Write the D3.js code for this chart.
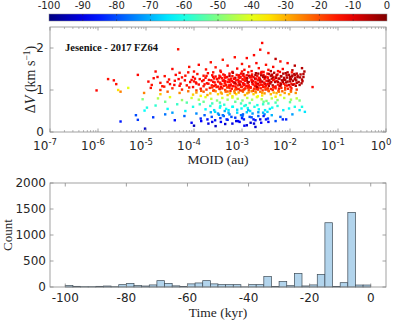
<!DOCTYPE html>
<html>
<head>
<meta charset="utf-8">
<script src="https://cdn.jsdelivr.net/npm/d3@7"></script>
<style>
body { margin: 0; background: #fff; }
svg { display: block; }
</style>
</head>
<body>
<svg id="chart" width="399" height="322"></svg>
<script>
// colour bar / time ticks
var ageTicks = [-100, -90, -80, -70, -60, -50, -40, -30, -20, -10, 0];
// top panel ticks
var moidDecades = [-7, -6, -5, -4, -3, -2, -1, 0];
var dvTicks = [0, 1, 2];
// bottom panel ticks
var countTicks = [0, 500, 1000, 1500, 2000];
var timeTicks = [-100, -80, -60, -40, -20, 0];

// histogram, 2.5 kyr bins
var binLeft = [-100, -97.5, -95, -92.5, -90, -87.5, -85, -82.5, -80, -77.5,
	-75, -72.5, -70, -67.5, -65, -62.5, -60, -57.5, -55, -52.5,
	-50, -47.5, -45, -42.5, -40, -37.5, -35, -32.5, -30, -27.5,
	-25, -22.5, -20, -17.5, -15, -12.5, -10, -7.5, -5, -2.5];
var binCount = [26, 13, 6, 6, 13, 19, 6, 45, 70, 26,
	19, 40, 122, 70, 22, 8, 60, 78, 122, 60,
	45, 45, 45, 3, 45, 45, 200, 8, 105, 25,
	262, 20, 40, 243, 1236, 8, 83, 1435, 38, 38];

// clones: [log10 MOID (au), dV (km/s), time (kyr)]
var clones = [
	// far left
	[-6.03,0.99,-13],[-5.79,1.26,-14],[-5.67,1.23,-13],[-5.62,1.14,-14],[-5.17,1.36,-13],
	// upper sparse
	[-4.33,1.97,-14],[-2.58,2.12,-13],[-2.62,1.96,-13],[-2.45,1.88,-14],[-2.75,1.83,-13],[-3.15,1.78,-14],
	[-2.9,1.76,-13],[-3.4,1.72,-15],[-2.3,1.74,-6],[-2.2,1.68,-14],[-3.65,1.66,-14],[-2.05,1.64,-13],
	[-2.7,1.64,-13],[-3.0,1.62,-14],[-3.9,1.6,-13],[-2.5,1.6,-14],[-1.9,1.58,-6],[-3.3,1.58,-13],
	[-2.85,1.56,-14],[-4.1,1.55,-14],[-2.35,1.55,-13],[-3.55,1.54,-14],[-1.75,1.52,-5],[-2.65,1.52,-14],
	[-3.1,1.51,-13],[-4.45,1.5,-13],[-2.15,1.5,-13],[-3.75,1.49,-14],[-2.95,1.48,-13],[-2.45,1.48,-14],
	[-1.95,1.47,-6],[-4.8,1.44,-13],[-3.45,1.46,-13],[-2.25,1.45,-14],[-2.8,1.45,-13],[-4.0,1.44,-14],
	[-1.7,1.44,-5],[-3.2,1.43,-13],[-2.55,1.43,-14],[-2.05,1.42,-6],[-3.6,1.42,-14],[-4.3,1.41,-14],
	// core
	[-4.12,1.42,-14],[-3.71,1.40,-13],[-3.44,1.43,-14],[-3.19,1.41,-6],[-3.02,1.39,-13],[-2.87,1.42,-14],
	[-2.71,1.40,-5],[-2.59,1.43,-13],[-2.47,1.39,-14],[-2.33,1.41,-6],[-2.21,1.43,-13],[-2.09,1.40,-5],
	[-1.96,1.42,-14],[-1.86,1.39,-6],
	[-4.38,1.36,-13],[-3.93,1.38,-14],[-3.62,1.35,-13],[-3.39,1.37,-14],[-3.26,1.39,-13],[-3.11,1.36,-14],
	[-2.97,1.38,-6],[-2.9,1.35,-13],[-2.79,1.37,-14],[-2.66,1.39,-5],[-2.55,1.36,-13],[-2.44,1.38,-6],
	[-2.37,1.35,-14],[-2.26,1.37,-13],[-2.14,1.39,-5],[-2.02,1.36,-6],[-1.91,1.38,-5],[-1.78,1.37,-6],
	[-4.61,1.33,-14],[-4.02,1.31,-13],[-3.8,1.34,-14],[-3.55,1.32,-13],[-3.47,1.34,-14],[-3.31,1.31,-13],
	[-3.2,1.33,-14],[-3.06,1.35,-13],[-2.95,1.32,-14],[-2.85,1.34,-6],[-2.76,1.31,-13],[-2.68,1.33,-14],
	[-2.6,1.35,-5],[-2.51,1.32,-13],[-2.4,1.34,-6],[-2.3,1.31,-14],[-2.19,1.33,-5],[-2.07,1.35,-6],
	[-1.96,1.32,-5],[-1.84,1.34,-6],[-1.72,1.31,-5],
	[-4.84,1.28,-13],[-4.25,1.3,-14],[-3.98,1.27,-13],[-3.76,1.29,-14],[-3.6,1.31,-13],[-3.42,1.28,-14],
	[-3.34,1.3,-13],[-3.23,1.27,-14],[-3.14,1.29,-6],[-3.03,1.31,-13],[-2.93,1.28,-14],[-2.83,1.3,-13],
	[-2.73,1.27,-5],[-2.64,1.29,-14],[-2.56,1.31,-6],[-2.46,1.28,-13],[-2.35,1.3,-5],[-2.24,1.27,-14],
	[-2.12,1.29,-6],[-2.0,1.31,-5],[-1.89,1.28,-6],[-1.79,1.3,-5],
	[-4.52,1.25,-14],[-4.19,1.23,-13],[-3.88,1.26,-14],[-3.69,1.24,-13],[-3.52,1.26,-14],[-3.38,1.23,-13],
	[-3.28,1.25,-14],[-3.17,1.27,-13],[-3.08,1.24,-14],[-2.99,1.26,-13],[-2.9,1.23,-6],[-2.8,1.25,-14],
	[-2.7,1.27,-13],[-2.62,1.24,-5],[-2.53,1.26,-14],[-2.43,1.23,-6],[-2.33,1.25,-13],[-2.22,1.27,-5],
	[-2.1,1.24,-6],[-1.98,1.26,-5],[-1.87,1.23,-6],[-1.75,1.25,-5],
	[-4.95,1.2,-13],[-4.4,1.22,-14],[-4.08,1.19,-13],[-3.83,1.21,-14],[-3.64,1.23,-13],[-3.5,1.2,-14],
	[-3.4,1.22,-13],[-3.3,1.19,-14],[-3.21,1.21,-13],[-3.12,1.23,-14],[-3.02,1.2,-13],[-2.94,1.22,-14],
	[-2.86,1.19,-6],[-2.77,1.21,-13],[-2.67,1.23,-14],[-2.58,1.2,-5],[-2.49,1.22,-13],[-2.39,1.19,-6],
	[-2.28,1.21,-14],[-2.17,1.23,-5],[-2.05,1.2,-6],[-1.94,1.22,-5],[-1.82,1.19,-6],
	[-4.7,1.17,-14],[-4.28,1.15,-13],[-3.96,1.18,-14],[-3.73,1.16,-13],[-3.57,1.18,-14],[-3.45,1.15,-13],
	[-3.36,1.17,-14],[-3.26,1.19,-13],[-3.16,1.16,-14],[-3.07,1.18,-13],[-2.97,1.15,-14],[-2.88,1.17,-13],
	[-2.79,1.19,-6],[-2.71,1.16,-14],[-2.62,1.18,-13],[-2.52,1.15,-5],[-2.42,1.17,-14],[-2.31,1.19,-6],
	[-2.2,1.16,-13],[-2.08,1.18,-5],[-1.97,1.15,-14],[-1.86,1.17,-6],[-1.76,1.16,-5],
	[-4.88,1.12,-14],[-4.5,1.14,-13],[-4.15,1.11,-14],[-3.9,1.13,-13],[-3.7,1.15,-14],[-3.55,1.12,-13],
	[-3.43,1.14,-14],[-3.33,1.11,-13],[-3.23,1.13,-14],[-3.13,1.15,-13],[-3.04,1.12,-14],[-2.95,1.14,-13],
	[-2.86,1.11,-14],[-2.76,1.13,-13],[-2.67,1.15,-6],[-2.57,1.12,-14],[-2.47,1.14,-13],[-2.36,1.11,-5],
	[-2.25,1.13,-14],[-2.13,1.15,-13],[-2.02,1.12,-6],[-1.91,1.14,-14],[-1.8,1.12,-5],
	[-4.62,1.08,-15],[-4.3,1.1,-14],[-4.02,1.07,-13],[-3.8,1.09,-15],[-3.63,1.11,-14],[-3.5,1.08,-13],
	[-3.38,1.1,-15],[-3.28,1.07,-14],[-3.19,1.09,-13],[-3.09,1.11,-15],[-3.0,1.08,-14],[-2.91,1.1,-13],
	[-2.82,1.07,-15],[-2.73,1.09,-14],[-2.64,1.11,-13],[-2.54,1.08,-15],[-2.44,1.1,-6],[-2.33,1.07,-14],
	[-2.22,1.09,-13],[-2.1,1.11,-15],[-1.99,1.08,-14],[-1.88,1.1,-6],
	[-4.45,1.04,-16],[-4.1,1.06,-15],[-3.86,1.03,-14],[-3.67,1.05,-16],[-3.53,1.07,-15],[-3.41,1.04,-14],
	[-3.31,1.06,-17],[-3.21,1.03,-15],[-3.12,1.05,-14],[-3.02,1.07,-16],[-2.93,1.04,-15],[-2.84,1.06,-14],
	[-2.75,1.03,-17],[-2.66,1.05,-15],[-2.56,1.07,-14],[-2.46,1.04,-16],[-2.35,1.06,-15],[-2.23,1.03,-14],
	[-2.1,1.05,-17],[-1.97,1.04,-15],
	[-4.7,1.0,-18],[-4.25,1.01,-16],[-3.95,0.99,-19],[-3.74,1.01,-17],[-3.58,0.99,-16],[-3.46,1.02,-20],
	[-3.35,1.0,-18],[-3.24,0.98,-16],[-3.14,1.01,-19],[-3.04,0.99,-17],[-2.95,1.02,-16],[-2.86,1.0,-20],
	[-2.77,0.98,-18],[-2.67,1.01,-16],[-2.57,0.99,-19],[-2.47,1.02,-17],[-2.36,1.0,-16],[-2.24,0.98,-18],
	[-2.1,1.01,-20],[-1.98,0.99,-17],[-1.86,1.01,-18],
	[-4.76,1.31,-13],[-4.55,1.19,-14],[-4.32,1.26,-13],[-4.66,1.09,-14],[-4.18,1.34,-14],[-4.41,1.12,-13],
	[-4.9,1.05,-14],[-4.05,1.24,-13],
	[-1.72,1.38,-5],[-1.74,1.21,-6],[-1.53,1.07,-13],
	[-3.36,1.35,-13],[-3.05,1.29,-14],[-2.8,1.33,-6],[-2.52,1.3,-5],[-2.28,1.35,-6],[-3.18,1.19,-13],
	[-2.92,1.26,-14],[-2.62,1.22,-13],[-2.38,1.27,-5],[-2.15,1.19,-6],[-3.27,1.11,-14],[-2.98,1.16,-13],
	[-2.7,1.12,-14],[-2.45,1.15,-13],[-2.2,1.1,-6],[-3.1,1.02,-16],[-2.82,1.05,-15],[-2.51,1.01,-17],
	[-2.3,1.04,-15],[-3.48,1.28,-14],[-2.0,1.26,-5],[-1.9,1.35,-6],[-2.6,1.41,-13],[-3.0,1.44,-14],[-2.4,1.45,-6],
	// core, second read of the densest part
	[-3.47,1.03,-15],[-3.26,1.05,-16],[-3.07,1.025,-15],[-2.88,1.055,-16],[-2.7,1.03,-15],[-2.51,1.06,-17],
	[-2.4,1.025,-15],[-2.18,1.05,-16],[-2.04,1.03,-15],[-3.62,1.06,-16],[-2.97,1.005,-17],[-2.61,1.04,-15],
	[-3.58,1.095,-14],[-3.44,1.075,-13],[-3.34,1.125,-14],[-3.24,1.105,-13],[-3.14,1.085,-14],[-3.05,1.135,-6],
	[-2.96,1.115,-13],[-2.87,1.095,-14],[-2.78,1.145,-13],[-2.69,1.075,-5],[-2.6,1.125,-14],[-2.5,1.105,-13],
	[-2.41,1.155,-6],[-2.3,1.085,-14],[-2.19,1.135,-5],[-2.06,1.105,-13],[-1.94,1.125,-6],[-3.78,1.135,-14],
	[-3.95,1.155,-13],
	[-3.6,1.195,-13],[-3.46,1.175,-14],[-3.35,1.215,-13],[-3.25,1.235,-14],[-3.15,1.175,-6],[-3.06,1.205,-13],
	[-2.97,1.245,-14],[-2.88,1.185,-5],[-2.8,1.225,-13],[-2.72,1.195,-14],[-2.63,1.255,-6],[-2.54,1.175,-13],
	[-2.45,1.215,-5],[-2.35,1.235,-14],[-2.25,1.195,-6],[-2.13,1.245,-5],[-2.0,1.205,-6],[-1.9,1.255,-5],
	[-3.8,1.235,-13],[-4.0,1.205,-14],
	[-3.58,1.275,-14],[-3.45,1.315,-13],[-3.36,1.295,-14],[-3.26,1.335,-6],[-3.16,1.265,-13],[-3.07,1.305,-14],
	[-2.98,1.345,-13],[-2.89,1.285,-6],[-2.81,1.315,-14],[-2.72,1.355,-5],[-2.64,1.275,-13],[-2.56,1.335,-6],
	[-2.47,1.305,-14],[-2.38,1.365,-5],[-2.29,1.285,-6],[-2.18,1.325,-5],[-2.06,1.295,-6],[-1.95,1.345,-5],
	[-1.84,1.305,-6],[-3.74,1.335,-14],
	// orange / yellow
	[-4.55,0.96,-22],[-4.3,0.93,-26],[-4.12,0.97,-24],[-3.95,0.94,-28],[-3.8,0.96,-22],[-3.66,0.92,-30],
	[-3.55,0.97,-25],[-3.44,0.94,-28],[-3.34,0.96,-23],[-3.25,0.92,-31],[-3.16,0.97,-24],[-3.07,0.94,-27],
	[-2.98,0.96,-22],[-2.89,0.92,-30],[-2.8,0.97,-25],[-2.71,0.94,-29],[-2.62,0.96,-23],[-2.53,0.92,-27],
	[-2.44,0.97,-22],[-2.34,0.94,-30],[-2.23,0.96,-24],[-2.11,0.93,-28],[-1.98,0.96,-23],[-1.88,0.93,-27],
	[-4.7,0.9,-32],[-4.02,0.89,-33],[-3.72,0.88,-29],[-3.5,0.9,-34],[-3.3,0.88,-32],[-3.12,0.9,-35],
	[-2.94,0.88,-30],[-2.76,0.9,-33],[-2.58,0.87,-35],[-2.4,0.9,-31],[-2.2,0.88,-34],[-2.02,0.9,-30],
	[-3.86,0.86,-36],[-3.2,0.85,-34],[-2.67,0.85,-37],[-2.3,0.84,-35],[-5.04,0.93,-25],[-5.58,1.0,-35],
	[-5.53,0.96,-25],[-5.37,1.05,-40],
	[-3.6,0.985,-20],[-3.3,0.965,-22],[-3.0,0.985,-19],[-2.72,0.965,-24],[-2.45,0.985,-21],[-2.16,0.97,-22],
	[-3.15,0.93,-27],[-2.86,0.945,-26],[-2.58,0.935,-28],[-2.28,0.925,-30],[-3.42,0.915,-29],[-3.85,0.98,-21],
	// green
	[-5.07,0.78,-50],[-4.75,0.8,-45],[-4.5,0.83,-40],[-4.25,0.76,-48],[-4.05,0.81,-42],[-3.9,0.77,-46],
	[-3.76,0.83,-40],[-3.64,0.79,-44],[-3.52,0.75,-50],[-3.41,0.81,-42],[-3.3,0.77,-47],[-3.2,0.82,-41],
	[-3.09,0.79,-45],[-2.99,0.75,-50],[-2.89,0.81,-43],[-2.79,0.77,-46],[-2.69,0.83,-40],[-2.59,0.78,-45],
	[-2.49,0.74,-50],[-2.38,0.8,-44],[-2.26,0.76,-48],[-2.12,0.81,-43],[-1.98,0.77,-47],[-1.86,0.8,-44],
	[-4.6,0.72,-52],[-4.15,0.7,-54],[-3.8,0.72,-52],[-3.46,0.7,-54],[-3.14,0.72,-53],[-2.84,0.69,-55],
	[-2.55,0.72,-52],[-2.3,0.7,-55],[-2.0,0.71,-53],[-1.8,0.75,-50],
	// cyan
	[-5.03,0.51,-62],[-4.98,0.58,-60],[-4.8,0.63,-58],[-4.55,0.55,-62],[-4.35,0.66,-57],[-4.18,0.5,-64],
	[-4.02,0.6,-60],[-3.88,0.66,-57],[-3.76,0.54,-63],[-3.66,0.62,-59],[-3.56,0.48,-66],[-3.46,0.58,-61],
	[-3.37,0.65,-58],[-3.28,0.52,-64],[-3.19,0.6,-60],[-3.1,0.46,-66],[-3.01,0.56,-62],[-2.92,0.64,-58],
	[-2.83,0.5,-65],[-2.74,0.6,-60],[-2.65,0.54,-63],[-2.56,0.66,-57],[-2.47,0.48,-66],[-2.37,0.58,-61],
	[-2.26,0.62,-59],[-2.14,0.52,-64],[-2.02,0.56,-62],[-1.9,0.6,-60],[-1.8,0.52,-64],[-1.75,0.6,-60],
	[-1.69,0.48,-65],[-3.62,0.68,-56],[-3.02,0.68,-56],[-2.45,0.68,-56],[-3.33,0.55,-62],[-2.88,0.57,-61],
	[-2.52,0.52,-64],
	// blue
	[-5.53,0.25,-85],[-5.21,0.4,-80],[-5.17,0.29,-82],[-5.02,0.08,-92],[-4.85,0.35,-82],[-4.6,0.42,-76],
	[-4.4,0.28,-86],[-4.2,0.38,-78],[-4.05,0.22,-88],[-3.95,0.44,-74],[-3.86,0.32,-84],[-3.78,0.4,-78],
	[-3.7,0.2,-90],[-3.63,0.36,-80],[-3.56,0.28,-86],[-3.5,0.44,-72],[-3.44,0.24,-88],[-3.38,0.38,-78],
	[-3.32,0.3,-84],[-3.26,0.42,-74],[-3.2,0.2,-90],[-3.14,0.34,-82],[-3.08,0.26,-86],[-3.02,0.4,-76],
	[-2.96,0.3,-84],[-2.9,0.16,-92],[-2.84,0.36,-80],[-2.78,0.44,-72],[-2.72,0.28,-86],[-2.66,0.38,-78],
	[-2.6,0.22,-88],[-2.53,0.42,-74],[-2.46,0.32,-82],[-2.38,0.4,-70],[-2.3,0.26,-80],[-2.2,0.36,-78],
	[-2.08,0.3,-84],[-1.95,0.42,-72],[-3.55,0.14,-94],[-2.72,0.12,-92],[-2.95,0.15,-88],[-3.85,0.26,-88],
	[-3.28,0.46,-70],[-2.56,0.46,-70],[-4.45,0.46,-72],[-2.9,0.47,-68],[-3.65,0.47,-70],[-2.15,0.3,-84],
	[-3.45,0.33,-82],[-2.8,0.35,-80],[-3.12,0.26,-90],[-2.45,0.24,-88],[-4.0,0.15,-95],[-3.35,0.19,-92],
	[-3.0,0.33,-85],[-2.62,0.3,-90],[-3.72,0.3,-86],[-2.98,0.42,-78],[-3.4,0.4,-76],[-2.75,0.2,-91],
	[-3.58,0.52,-66],[-3.48,0.41,-74],[-3.36,0.5,-70],[-3.22,0.36,-80],[-3.1,0.53,-66],[-2.99,0.38,-78],
	[-2.87,0.52,-70],[-2.76,0.3,-86],[-2.66,0.47,-72],[-2.55,0.38,-84],[-2.42,0.55,-64],[-3.2,0.6,-62],
	[-2.95,0.62,-60],[-2.68,0.64,-60],[-3.45,0.62,-62],[-3.05,0.24,-88],[-2.82,0.22,-92],[-3.62,0.24,-90],
	[-2.5,0.3,-86],[-3.3,0.29,-84]
];

var svg = d3.select("#chart");
var axisColor = "#8a8a8a", textColor = "#262626";
var sansFont = "DejaVu Sans, sans-serif", serifFont = "Liberation Serif, serif";

function jet(t) {
	function c(v) { return Math.max(0, Math.min(1, v)); }
	var r = c(1.5 - Math.abs(4 * t - 3)),
		g = c(1.5 - Math.abs(4 * t - 2)),
		b = c(1.5 - Math.abs(4 * t - 1));
	return d3.rgb(r * 255, g * 255, b * 255).toString();
}
var ageColor = function(a) { return jet((a + 100) / 100); };

// ---------- colour bar ----------
var cbX = d3.scaleLinear().domain([-100, 0]).range([49, 387]);
var grad = svg.append("defs").append("linearGradient").attr("id", "jetgrad");
d3.range(0, 1.0001, 0.05).forEach(function(t) {
	grad.append("stop").attr("offset", t).attr("stop-color", jet(t));
});
svg.append("rect")
	.attr("x", cbX(-100)).attr("y", 14)
	.attr("width", cbX(0) - cbX(-100)).attr("height", 7)
	.attr("fill", "url(#jetgrad)")
	.attr("stroke", axisColor).attr("stroke-width", 0.5);
var cbT = svg.append("g");
cbT.selectAll("line.b").data(ageTicks.slice(1, -1)).enter().append("line")
	.attr("x1", cbX).attr("x2", cbX).attr("y1", 21).attr("y2", 19.3)
	.attr("stroke", "#333").attr("stroke-width", 0.6);
cbT.selectAll("line.t").data(ageTicks.slice(1, -1)).enter().append("line")
	.attr("x1", cbX).attr("x2", cbX).attr("y1", 14).attr("y2", 15.7)
	.attr("stroke", "#333").attr("stroke-width", 0.6);
cbT.selectAll("text").data(ageTicks).enter().append("text")
	.attr("x", cbX).attr("y", 9)
	.attr("text-anchor", "middle")
	.attr("font-family", sansFont).attr("font-size", 10)
	.attr("fill", textColor)
	.text(function(d) { return d; });

// ---------- top panel ----------
var pTop = { l: 50, r: 386, t: 27, b: 132 };
var xLog = d3.scaleLog().domain([1e-7, 1]).range([pTop.l, pTop.r]);
var yDv = d3.scaleLinear().domain([0, 2.5]).range([pTop.b, pTop.t]);

var gTop = svg.append("g");
gTop.selectAll("rect").data(clones).enter().append("rect")
	.attr("x", function(d) { return xLog(Math.pow(10, d[0])) - 1.2; })
	.attr("y", function(d) { return yDv(d[1]) - 1.2; })
	.attr("width", 2.4).attr("height", 2.4)
	.attr("fill", function(d) { return ageColor(d[2]); });

gTop.append("rect")
	.attr("x", pTop.l).attr("y", pTop.t)
	.attr("width", pTop.r - pTop.l).attr("height", pTop.b - pTop.t)
	.attr("fill", "none").attr("stroke", axisColor).attr("stroke-width", 0.8);

var minor = [];
moidDecades.slice(0, -1).forEach(function(d) {
	for (var k = 2; k <= 9; k++) minor.push(k * Math.pow(10, d));
});
var majorV = moidDecades.map(function(d) { return Math.pow(10, d); });
[[pTop.b, -1], [pTop.t, 1]].forEach(function(s) {
	gTop.selectAll(null).data(majorV).enter().append("line")
		.attr("x1", xLog).attr("x2", xLog)
		.attr("y1", s[0]).attr("y2", s[0] + s[1] * 3.5)
		.attr("stroke", axisColor).attr("stroke-width", 0.8);
	gTop.selectAll(null).data(minor).enter().append("line")
		.attr("x1", xLog).attr("x2", xLog)
		.attr("y1", s[0]).attr("y2", s[0] + s[1] * 2)
		.attr("stroke", axisColor).attr("stroke-width", 0.6);
});
[[pTop.l, 1], [pTop.r, -1]].forEach(function(s) {
	gTop.selectAll(null).data(dvTicks).enter().append("line")
		.attr("x1", s[0]).attr("x2", s[0] + s[1] * 3.5)
		.attr("y1", yDv).attr("y2", yDv)
		.attr("stroke", axisColor).attr("stroke-width", 0.8);
});
var xl = gTop.selectAll("text.xl").data(moidDecades).enter().append("text")
	.attr("x", function(d) { return xLog(Math.pow(10, d)) - 5; })
	.attr("y", 150)
	.attr("text-anchor", "middle")
	.attr("font-family", sansFont).attr("font-size", 12)
	.attr("fill", textColor);
xl.append("tspan").text("10");
xl.append("tspan").attr("dy", -5.5).attr("font-size", 8.5)
	.text(function(d) { return d; });
gTop.selectAll("text.yl").data(dvTicks).enter().append("text")
	.attr("x", 44).attr("y", function(d) { return yDv(d) + 4.3; })
	.attr("text-anchor", "end")
	.attr("font-family", sansFont).attr("font-size", 12)
	.attr("fill", textColor)
	.text(function(d) { return d; });
gTop.append("text")
	.attr("x", 65).attr("y", 50.5)
	.attr("font-family", serifFont).attr("font-size", 10.5).attr("font-weight", "bold")
	.attr("fill", "#111")
	.text("Jesenice - 2017 FZ64");
gTop.append("text")
	.attr("x", (pTop.l + pTop.r) / 2).attr("y", 163.5)
	.attr("text-anchor", "middle")
	.attr("font-family", serifFont).attr("font-size", 13.5)
	.attr("fill", textColor)
	.text("MOID (au)");
var yt = gTop.append("text")
	.attr("transform", "translate(35," + ((pTop.t + pTop.b) / 2) + ") rotate(-90)")
	.attr("text-anchor", "middle")
	.attr("font-family", serifFont).attr("font-size", 14)
	.attr("fill", textColor);
yt.append("tspan").text("\u0394");
yt.append("tspan").attr("font-style", "italic").text("V");
yt.append("tspan").text(" (km s");
yt.append("tspan").attr("dy", -5).attr("font-size", 9.5).text("\u22121");
yt.append("tspan").attr("dy", 5).text(")");

// ---------- bottom panel ----------
var pBot = { l: 50, r: 386, t: 183, b: 287 };
var xTime = d3.scaleLinear().domain([-105, 5]).range([pBot.l, pBot.r]);
var yCount = d3.scaleLinear().domain([0, 2000]).range([pBot.b, pBot.t]);
var gBot = svg.append("g");

var bins = binLeft.map(function(x, i) { return { x0: x, x1: x + 2.5, n: binCount[i] }; });
gBot.selectAll("rect.bar").data(bins).enter().append("rect")
	.attr("x", function(d) { return xTime(d.x0); })
	.attr("y", function(d) { return yCount(d.n); })
	.attr("width", function(d) { return xTime(d.x1) - xTime(d.x0); })
	.attr("height", function(d) { return yCount(0) - yCount(d.n); })
	.attr("fill", "#b2d4ec")
	.attr("stroke", "#3d4a55").attr("stroke-width", 0.7);

gBot.append("rect")
	.attr("x", pBot.l).attr("y", pBot.t)
	.attr("width", pBot.r - pBot.l).attr("height", pBot.b - pBot.t)
	.attr("fill", "none").attr("stroke", axisColor).attr("stroke-width", 0.8);
[[pBot.b, -1], [pBot.t, 1]].forEach(function(s) {
	gBot.selectAll(null).data(timeTicks).enter().append("line")
		.attr("x1", xTime).attr("x2", xTime)
		.attr("y1", s[0]).attr("y2", s[0] + s[1] * 3.5)
		.attr("stroke", axisColor).attr("stroke-width", 0.8);
});
[[pBot.l, 1], [pBot.r, -1]].forEach(function(s) {
	gBot.selectAll(null).data(countTicks).enter().append("line")
		.attr("x1", s[0]).attr("x2", s[0] + s[1] * 3.5)
		.attr("y1", yCount).attr("y2", yCount)
		.attr("stroke", axisColor).attr("stroke-width", 0.8);
});
gBot.selectAll("text.xl").data(timeTicks).enter().append("text")
	.attr("x", xTime).attr("y", 302)
	.attr("text-anchor", "middle")
	.attr("font-family", sansFont).attr("font-size", 12)
	.attr("fill", textColor)
	.text(function(d) { return d; });
gBot.selectAll("text.yl").data(countTicks).enter().append("text")
	.attr("x", 46).attr("y", function(d) { return yCount(d) + 4.3; })
	.attr("text-anchor", "end")
	.attr("font-family", sansFont).attr("font-size", 12)
	.attr("fill", textColor)
	.text(function(d) { return d; });
gBot.append("text")
	.attr("x", (pBot.l + pBot.r) / 2).attr("y", 317)
	.attr("text-anchor", "middle")
	.attr("font-family", serifFont).attr("font-size", 13.5)
	.attr("fill", textColor)
	.text("Time (kyr)");
gBot.append("text")
	.attr("transform", "translate(12," + ((pBot.t + pBot.b) / 2) + ") rotate(-90)")
	.attr("text-anchor", "middle")
	.attr("font-family", serifFont).attr("font-size", 13)
	.attr("fill", textColor)
	.text("Count");
</script>
</body>
</html>
